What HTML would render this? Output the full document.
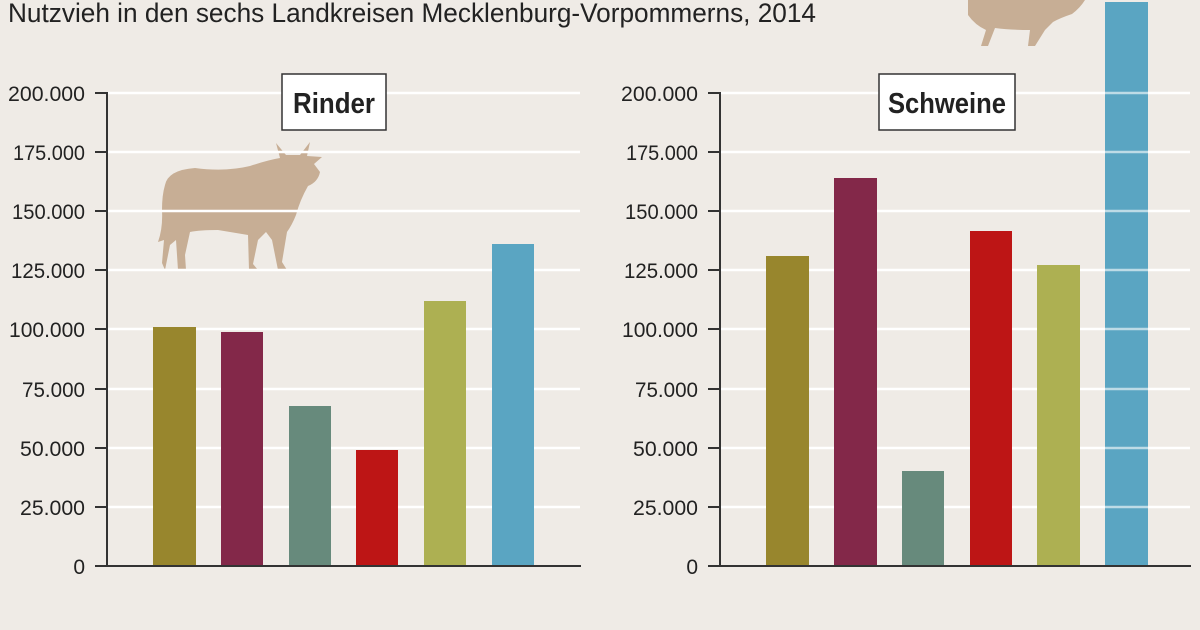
<!DOCTYPE html>
<html><head><meta charset="utf-8"><style>
html,body{margin:0;padding:0;background:#efebe6;}
svg{display:block}
text{font-family:"Liberation Sans",sans-serif;}
</style></head><body>
<svg width="1200" height="630" viewBox="0 0 1200 630">
<rect width="1200" height="630" fill="#efebe6"/>
<text x="8" y="22" font-size="27" fill="#222" textLength="808" lengthAdjust="spacingAndGlyphs">Nutzvieh in den sechs Landkreisen Mecklenburg-Vorpommerns, 2014</text>

<!-- cow -->
<path fill="#c7ae95" d="M165,185 Q168,170 195,168 Q225,172 250,166 Q268,160 280,158 L276,143 L286,155 L300,155 L310,142 L307,156 L322,157 L314,164 L320,172 Q318,182 308,186 Q300,200 296,215 Q292,225 287,232 L282,262 L287,270 L278,270 L272,240 L266,232 L258,240 L253,264 L258,270 L249,270 L248,235 Q230,232 218,230 Q200,230 190,232 L185,255 L186,270 L178,270 L176,240 L170,245 L165,270 L162,263 L164,240 L158,242 Q163,228 162,210 Q162,195 165,185 Z"/>
<!-- pig -->
<path fill="#c7ae95" d="M968,0 L1085,0 Q1080,8 1072,14 Q1060,18 1053,22 L1045,30 L1035,46 L1028,46 L1030,30 Q1010,30 995,28 L988,46 L981,46 L986,30 Q975,25 968,15 Z"/>

<g stroke="#fff" stroke-width="2.5">
<line x1="108" y1="93" x2="580" y2="93"/><line x1="108" y1="152" x2="580" y2="152"/><line x1="108" y1="211" x2="580" y2="211"/><line x1="108" y1="270" x2="580" y2="270"/><line x1="108" y1="329" x2="580" y2="329"/><line x1="108" y1="389" x2="580" y2="389"/><line x1="108" y1="448" x2="580" y2="448"/><line x1="108" y1="507" x2="580" y2="507"/>
<line x1="721" y1="93" x2="1190" y2="93"/><line x1="721" y1="152" x2="1190" y2="152"/><line x1="721" y1="211" x2="1190" y2="211"/><line x1="721" y1="270" x2="1190" y2="270"/><line x1="721" y1="329" x2="1190" y2="329"/><line x1="721" y1="389" x2="1190" y2="389"/><line x1="721" y1="448" x2="1190" y2="448"/><line x1="721" y1="507" x2="1190" y2="507"/>
</g>
<g>
<rect x="153" y="327" width="43" height="239" fill="#98862d"/>
<rect x="221" y="332" width="42" height="234" fill="#832849"/>
<rect x="289" y="406" width="42" height="160" fill="#678a7c"/>
<rect x="356" y="450" width="42" height="116" fill="#bd1515"/>
<rect x="424" y="301" width="42" height="265" fill="#adb052"/>
<rect x="492" y="244" width="42" height="322" fill="#5aa5c2"/>
<rect x="766" y="256" width="43" height="310" fill="#98862d"/>
<rect x="834" y="178" width="43" height="388" fill="#832849"/>
<rect x="902" y="471" width="42" height="95" fill="#678a7c"/>
<rect x="970" y="231" width="42" height="335" fill="#bd1515"/>
<rect x="1037" y="265" width="43" height="301" fill="#adb052"/>
<rect x="1105" y="2" width="43" height="564" fill="#5aa5c2"/>
</g>
<g stroke="#fff" stroke-width="2.5" opacity="0.6">
<line x1="1105" y1="93" x2="1148" y2="93"/><line x1="1105" y1="152" x2="1148" y2="152"/><line x1="1105" y1="211" x2="1148" y2="211"/><line x1="1105" y1="270" x2="1148" y2="270"/><line x1="1105" y1="329" x2="1148" y2="329"/><line x1="1105" y1="389" x2="1148" y2="389"/><line x1="1105" y1="448" x2="1148" y2="448"/><line x1="1105" y1="507" x2="1148" y2="507"/>
</g>
<g stroke="#333" stroke-width="2">
<line x1="107" y1="92" x2="107" y2="567"/><line x1="95" y1="566" x2="581" y2="566"/>
<line x1="720" y1="92" x2="720" y2="567"/><line x1="708" y1="566" x2="1191" y2="566"/>
<path d="M95,93H107M95,152H107M95,211H107M95,270H107M95,329H107M95,389H107M95,448H107M95,507H107"/>
<path d="M708,93H720M708,152H720M708,211H720M708,270H720M708,329H720M708,389H720M708,448H720M708,507H720"/>
</g>
<g font-size="21" fill="#222" text-anchor="end">
<text x="85" y="101" textLength="77" lengthAdjust="spacingAndGlyphs">200.000</text><text x="85" y="160" textLength="72" lengthAdjust="spacingAndGlyphs">175.000</text><text x="85" y="219" textLength="73" lengthAdjust="spacingAndGlyphs">150.000</text><text x="85" y="278" textLength="74" lengthAdjust="spacingAndGlyphs">125.000</text><text x="85" y="337" textLength="76" lengthAdjust="spacingAndGlyphs">100.000</text><text x="85" y="397" textLength="63" lengthAdjust="spacingAndGlyphs">75.000</text><text x="85" y="456" textLength="65" lengthAdjust="spacingAndGlyphs">50.000</text><text x="85" y="515" textLength="65" lengthAdjust="spacingAndGlyphs">25.000</text><text x="85" y="574">0</text>
<text x="698" y="101" textLength="77" lengthAdjust="spacingAndGlyphs">200.000</text><text x="698" y="160" textLength="72" lengthAdjust="spacingAndGlyphs">175.000</text><text x="698" y="219" textLength="73" lengthAdjust="spacingAndGlyphs">150.000</text><text x="698" y="278" textLength="74" lengthAdjust="spacingAndGlyphs">125.000</text><text x="698" y="337" textLength="76" lengthAdjust="spacingAndGlyphs">100.000</text><text x="698" y="397" textLength="63" lengthAdjust="spacingAndGlyphs">75.000</text><text x="698" y="456" textLength="65" lengthAdjust="spacingAndGlyphs">50.000</text><text x="698" y="515" textLength="65" lengthAdjust="spacingAndGlyphs">25.000</text><text x="698" y="574">0</text>
</g>
<rect x="282" y="74" width="104" height="56" fill="#fff" stroke="#333" stroke-width="1.5"/>
<text x="334" y="113" font-size="29" font-weight="bold" fill="#222" text-anchor="middle" textLength="82" lengthAdjust="spacingAndGlyphs">Rinder</text>
<rect x="879" y="74" width="136" height="56" fill="#fff" stroke="#333" stroke-width="1.5"/>
<text x="947" y="113" font-size="29" font-weight="bold" fill="#222" text-anchor="middle" textLength="118" lengthAdjust="spacingAndGlyphs">Schweine</text>
</svg>
</body></html>
